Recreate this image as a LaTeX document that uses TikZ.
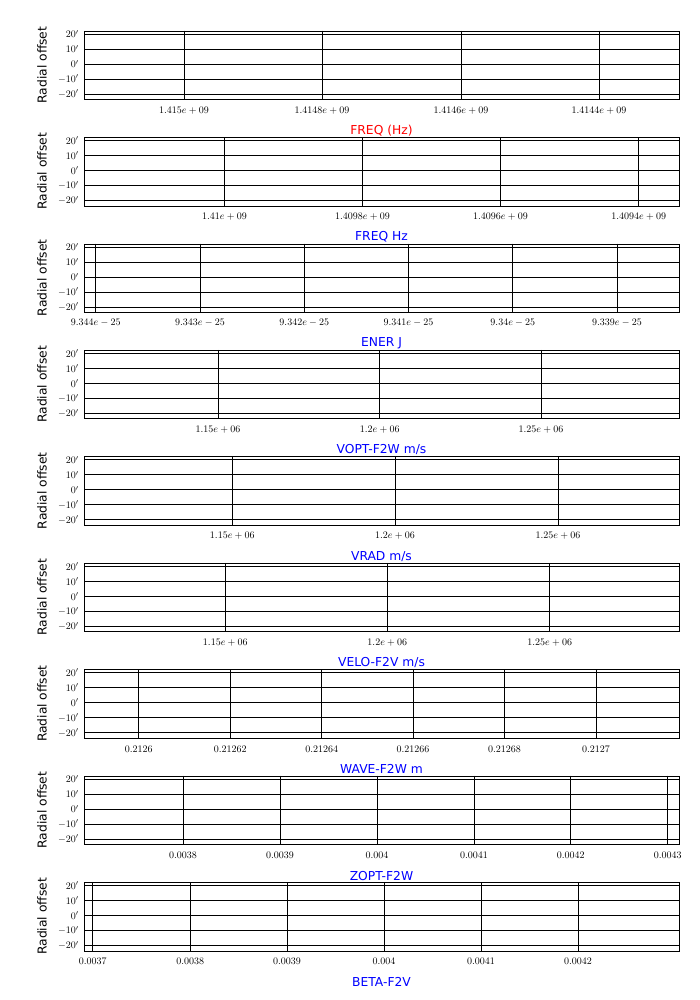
\documentclass[tikz,border=0pt]{standalone}
\usepackage{fontspec}
\setsansfont{DejaVu Sans}
\usetikzlibrary{positioning}
\tikzset{
  % panel frame style
  panelbox/.style={
    draw
    , line width=1pt
    , minimum width=595pt
    , minimum height=68.5pt
    , anchor=north west
    , inner sep=0pt
  },
  gridline/.style={line width=1pt},
  ticklab/.style={font=\fontsize{10}{12}\selectfont, inner sep=0pt},
  axislab/.style={font=\sffamily\fontsize{12.3}{14}\selectfont, inner sep=0pt},
}

\begin{document}
\begin{tikzpicture}[x=1pt, y=-1pt]
  \useasboundingbox (0,0) rectangle (700,1000);
  \foreach \i/\ttl/\col/\ticks in {
    0/{FREQ (Hz)}/red/{184/{$1.415e+09$},322/{$1.4148e+09$},461/{$1.4146e+09$},599/{$1.4144e+09$}},
    1/{FREQ Hz}/blue/{224.5/{$1.41e+09$},362.5/{$1.4098e+09$},500.5/{$1.4096e+09$},638.7/{$1.4094e+09$}},
    2/{ENER J}/blue/{95.7/{$9.344e-25$},200/{$9.343e-25$},304.3/{$9.342e-25$},408.5/{$9.341e-25$},512.8/{$9.34e-25$},617/{$9.339e-25$}},
    3/{VOPT-F2W m/s}/blue/{218/{$1.15e+06$},379.7/{$1.2e+06$},541/{$1.25e+06$}},
    4/{VRAD m/s}/blue/{232.3/{$1.15e+06$},395/{$1.2e+06$},558/{$1.25e+06$}},
    5/{VELO-F2V m/s}/blue/{225.3/{$1.15e+06$},387.3/{$1.2e+06$},549.7/{$1.25e+06$}},
    6/{WAVE-F2W m}/blue/{138.7/{$0.2126$},230.3/{$0.21262$},321.7/{$0.21264$},413/{$0.21266$},504.5/{$0.21268$},596/{$0.2127$}},
    7/{ZOPT-F2W}/blue/{183/{$0.0038$},280/{$0.0039$},377/{$0.004$},474/{$0.0041$},570.7/{$0.0042$},667.7/{$0.0043$}},
    8/{BETA-F2V}/blue/{92.7/{$0.0037$},190.3/{$0.0038$},287/{$0.0039$},384/{$0.004$},481/{$0.0041$},578/{$0.0042$}}} {
    \pgfmathsetmacro\top{30.7+106.43*\i}
    \node[panelbox] (p\i) at (84,\top) {};
    \foreach \dy/\lab [count=\k] in {3.5/{20'},18.5/{10'},33.5/{0'},48.5/{-10'},63.5/{-20'}} {
      \draw[gridline] (84,\top+\dy) -- (679,\top+\dy);
      \node[ticklab, anchor=east] (y\i-\k) at (79,\top+\dy) {$\lab$};
    }
    \foreach \x/\l [count=\k] in \ticks {
      \draw[gridline] (\x,\top) -- (\x,\top+68.5);
      \node[ticklab] (x\i-\k) at (\x,\top+79.5) {\l};
    }
    \node[axislab, text=\col] (t\i) at (381.5,\top+100) {\ttl};
    \node[axislab, rotate=90] (yl\i) at (42,\top+34.3) {Radial offset};
  }
\end{tikzpicture}
\end{document}
